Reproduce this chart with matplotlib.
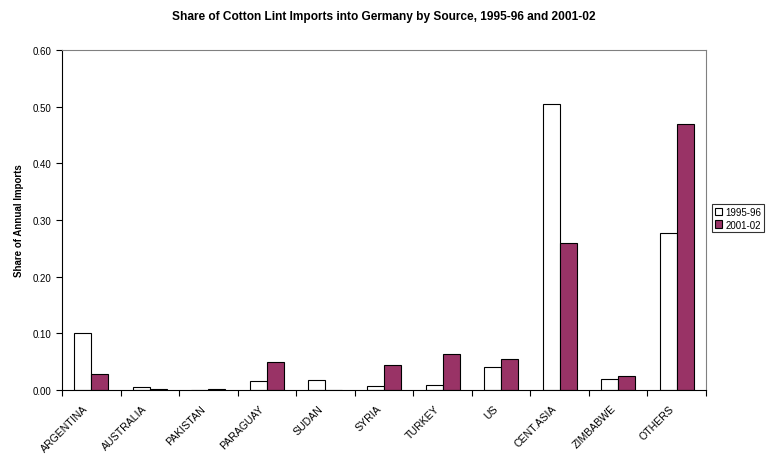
import matplotlib
matplotlib.use("Agg")
import matplotlib.pyplot as plt
import matplotlib.transforms as mtransforms
import numpy as np

plt.rcParams['font.family'] = ['Liberation Sans', 'DejaVu Sans']

categories = ["ARGENTINA", "AUSTRALIA", "PAKISTAN", "PARAGUAY", "SUDAN", "SYRIA",
              "TURKEY", "US", "CENT.ASIA", "ZIMBABWE", "OTHERS"]
share_1995 = [0.101, 0.005, 0.0, 0.016, 0.018, 0.007, 0.009, 0.041, 0.505, 0.019, 0.277]
share_2001 = [0.028, 0.001, 0.002, 0.050, 0.0, 0.045, 0.063, 0.054, 0.259, 0.024, 0.469]
yticks = [0.0, 0.1, 0.2, 0.3, 0.4, 0.5, 0.6]

fig = plt.figure(figsize=(7.67, 4.56), dpi=100)
ax = fig.add_axes([0.0808, 0.1425, 0.8397, 0.7455])

x = np.arange(len(categories))
w = 0.29
ax.bar(x - w/2, share_1995, w, color='white', edgecolor='black', linewidth=0.8, label='1995-96')
ax.bar(x + w/2, share_2001, w, color='#993366', edgecolor='black', linewidth=0.8, label='2001-02')

ax.set_xlim(-0.5, len(categories) - 0.5)
ax.set_ylim(0, 0.6)
ax.set_yticks(yticks)
ax.set_yticklabels([f"{v:.2f}" for v in yticks], fontsize=7)
ax.set_xticks(x)
ax.set_xticklabels(categories, rotation=45, ha='right', va='center', rotation_mode='anchor', fontsize=7.6)
ax.tick_params(axis='x', length=0, pad=12)
ax.set_xticks(np.arange(-0.5, len(categories)), minor=True)
ax.tick_params(axis='x', which='minor', length=4, direction='out', width=0.8)
ax.tick_params(axis='y', length=4, direction='out', width=0.8)
shift = mtransforms.ScaledTranslation(-0.045, 0, fig.dpi_scale_trans)
for lbl in ax.get_xticklabels():
    lbl.set_transform(lbl.get_transform() + shift)

for s in ['top', 'right']:
    ax.spines[s].set_color('#808080')
    ax.spines[s].set_linewidth(0.8)
for s in ['left', 'bottom']:
    ax.spines[s].set_color('black')
    ax.spines[s].set_linewidth(0.8)

ax.set_ylabel("Share of Annual Imports", fontsize=7, fontweight='bold', labelpad=6)
fig.suptitle("Share of Cotton Lint Imports into Germany by Source, 1995-96 and 2001-02",
             fontsize=8.6, fontweight='bold', x=0.5, y=0.975)

leg = fig.legend(loc='upper left', bbox_to_anchor=(0.928, 0.551), fontsize=7,
                 frameon=True, fancybox=False, edgecolor='black', handlelength=0.8,
                 handleheight=0.8, handletextpad=0.3, borderpad=0.3, labelspacing=0.3,
                 borderaxespad=0)
leg.get_frame().set_linewidth(0.8)

fig.savefig("out.png", dpi=100)
